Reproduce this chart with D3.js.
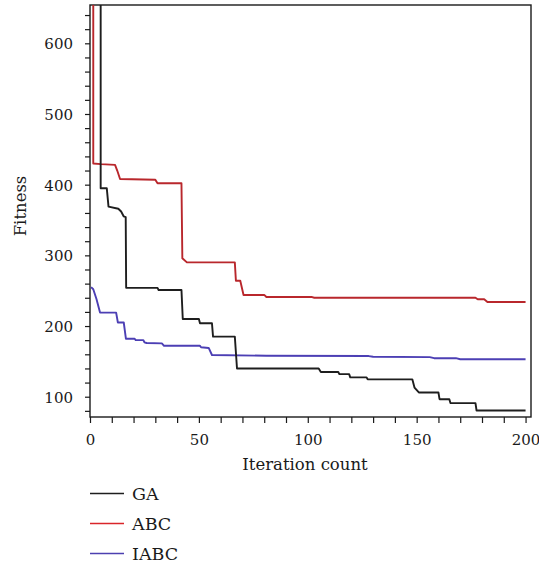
<!DOCTYPE html>
<html>
<head>
<meta charset="utf-8">
<script src="https://cdn.jsdelivr.net/npm/d3@7"></script>
<style>
  body { margin: 0; background: #fff; }
</style>
</head>
<body>
<div id="chart"></div>
<script>
// series: iteration, fitness
const series_names = ['GA', 'ABC', 'IABC'];

const ga_iter = [0, 4.9, 4.9, 7.7, 8.5, 13, 14.3, 15.5, 16.4, 16.6, 31, 31.5, 42, 42.6, 50, 50.5, 56, 56.5, 66.5, 67.5, 105, 106, 114, 114.5, 119, 119.5, 127, 127.5, 148, 149, 151, 160, 160.5, 165, 165.5, 177, 177.5, 200];
const ga_fit  = [900, 900, 395, 395, 369, 366, 362, 355, 354, 254, 254, 251, 251, 210, 210, 204, 204, 185, 185, 140, 140, 135, 135, 132, 132, 127.4, 127.4, 124.6, 124.6, 113, 106, 106, 96.5, 96.5, 91, 91, 80.5, 80.5];

const abc_iter = [0, 1.5, 1.5, 5, 11.5, 12.5, 13.8, 30, 31, 42, 42.4, 44.5, 66.5, 67, 69, 70.5, 80, 81, 102, 103, 177, 178, 181, 182.5, 200];
const abc_fit  = [900, 900, 430, 429, 428, 420, 408, 407, 402, 402, 296, 290, 290, 264, 264, 244, 244, 241, 241, 240, 240, 238, 238, 234, 234];

const iabc_iter = [0.5, 1.5, 3, 4.6, 12, 12.8, 15.5, 16.5, 20.5, 21, 24.5, 25, 26, 33, 34, 50.5, 51, 54.5, 56, 81, 128, 130, 156, 158, 168, 170, 200];
const iabc_fit  = [255, 252, 238, 219, 219, 205, 205, 182, 182, 180, 180, 177, 176, 175.5, 172, 172, 170, 169, 159, 158, 157.5, 156.5, 156, 154.5, 154.5, 153, 153];

const line_colors = ['#1e1e1e', '#b9272c', '#4c3fb4'];
const legend_colors = ['#1e1e1e', '#d9252a', '#4d40b0'];

const x_ticks = d3.range(0, 201, 10);
const x_labels = [0, 50, 100, 150, 200];
const y_ticks = d3.range(80, 641, 20);
const y_labels = [100, 200, 300, 400, 500, 600];

const serif = '"DejaVu Serif", serif';

const figure_width = 539;
const figure_height = 563;
const plot = {left: 90, right: 531, top: 5, bottom: 417};

const svg = d3.select('#chart')
  .append('svg')
    .attr('width', figure_width)
    .attr('height', figure_height);

const x = d3.scaleLinear()
  .domain([0, 202.5])
  .range([plot.left, plot.right]);

const y = d3.scaleLinear()
  .domain([71.3, 654.2])
  .range([plot.bottom, plot.top]);

svg.append('clipPath')
    .attr('id', 'plot_clip')
  .append('rect')
    .attr('x', plot.left)
    .attr('y', plot.top)
    .attr('width', plot.right - plot.left)
    .attr('height', plot.bottom - plot.top);

// axes: ticks every 10 / 20, labels only on the round ones
const x_axis = svg.append('g')
  .attr('transform', 'translate(0,' + plot.bottom + ')')
  .call(d3.axisBottom(x)
    .tickValues(x_ticks)
    .tickSize(6)
    .tickPadding(0)
    .tickFormat(d => x_labels.includes(d) ? d : ''));

const y_axis = svg.append('g')
  .attr('transform', 'translate(' + plot.left + ',0)')
  .call(d3.axisLeft(y)
    .tickValues(y_ticks)
    .tickSize(5)
    .tickPadding(0)
    .tickFormat(d => y_labels.includes(d) ? d : ''));

[x_axis, y_axis].forEach(a => {
  a.attr('font-family', serif);
  a.select('.domain').remove();
  a.selectAll('line').attr('stroke', '#1a1a1a').attr('stroke-width', 1.2);
  a.selectAll('text')
    .attr('font-family', serif)
    .attr('font-size', 15)
    .attr('fill', '#1a1a1a');
});
x_axis.selectAll('text')
  .attr('y', 28)
  .attr('dy', 0);
y_axis.selectAll('text')
  .attr('x', -17)
  .attr('dy', '0.36em');

// frame
svg.append('rect')
  .attr('x', plot.left)
  .attr('y', plot.top)
  .attr('width', plot.right - plot.left)
  .attr('height', plot.bottom - plot.top)
  .attr('fill', 'none')
  .attr('stroke', '#1a1a1a')
  .attr('stroke-width', 1.4);

const all_iter = [ga_iter, abc_iter, iabc_iter];
const all_fit = [ga_fit, abc_fit, iabc_fit];

const line = d3.line()
  .x(d => x(d[0]))
  .y(d => y(d[1]));

const lines_g = svg.append('g').attr('clip-path', 'url(#plot_clip)');

// draw IABC, ABC, then GA on top
[2, 1, 0].forEach(i => {
  const pts = all_iter[i].map((it, k) => [it, all_fit[i][k]]);
  lines_g.append('path')
    .datum(pts)
    .attr('d', line)
    .attr('fill', 'none')
    .attr('stroke', line_colors[i])
    .attr('stroke-width', 1.9)
    .attr('stroke-linejoin', 'round');
});

svg.append('text')
  .attr('x', 305)
  .attr('y', 470)
  .attr('text-anchor', 'middle')
  .attr('font-family', serif)
  .attr('font-size', 16.5)
  .attr('fill', '#1a1a1a')
  .text('Iteration count');

svg.append('text')
  .attr('transform', 'translate(26,206) rotate(-90)')
  .attr('text-anchor', 'middle')
  .attr('font-family', serif)
  .attr('font-size', 16.5)
  .attr('fill', '#1a1a1a')
  .text('Fitness');

// legend below the plot
const legend = svg.append('g');
const legend_y = d3.scalePoint()
  .domain(series_names)
  .range([494, 554]);

series_names.forEach((name, i) => {
  legend.append('line')
    .attr('x1', 90)
    .attr('x2', 124)
    .attr('y1', legend_y(name) - 0.5)
    .attr('y2', legend_y(name) - 0.5)
    .attr('stroke', legend_colors[i])
    .attr('stroke-width', 1.3);
  legend.append('text')
    .attr('x', 132)
    .attr('y', legend_y(name) + 6)
    .attr('font-family', serif)
    .attr('font-size', 17.5)
    .attr('fill', '#1a1a1a')
    .text(name);
});
</script>
</body>
</html>
